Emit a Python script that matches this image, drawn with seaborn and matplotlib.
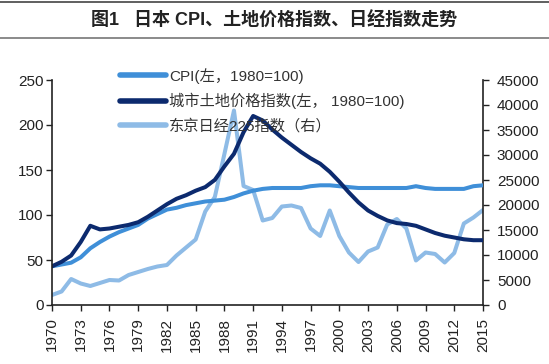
import matplotlib
matplotlib.use("Agg")
import matplotlib.pyplot as plt
import seaborn as sns
from matplotlib.lines import Line2D


years = list(range(1970, 2016))

# CPI (left axis, 1980=100)
cpi = [43, 45, 47, 53, 63, 70, 76, 81, 85, 89,
       96, 101, 106, 108, 111, 113, 115, 116, 117, 120,
       124, 127, 129, 130, 130, 130, 130, 132, 133, 133,
       132, 131, 130, 130, 130, 130, 130, 130, 132, 130,
       129, 129, 129, 129, 132, 133]

# urban land price index (left axis, 1980=100)
land = [43, 48, 55, 70, 88, 84, 85, 87, 89, 92,
        98, 105, 112, 118, 122, 127, 131, 139, 154, 168,
        192, 210, 205, 195, 186, 178, 170, 163, 157, 148,
        137, 125, 114, 105, 99, 94, 91, 90, 88, 84,
        80, 77, 75, 73, 72, 72]

# Nikkei 225 (right axis)
nikkei = [2000, 2700, 5200, 4300, 3800, 4400, 5000, 4900, 6000, 6600,
          7200, 7700, 8000, 9900, 11500, 13100, 18700, 21600, 30200, 38900,
          23800, 23000, 16900, 17400, 19700, 19900, 19400, 15300, 13800, 18900,
          13800, 10500, 8600, 10700, 11500, 16100, 17200, 15300, 8900, 10500,
          10200, 8500, 10400, 16300, 17500, 19000]

labels = ["CPI(左，1980=100)", "城市土地价格指数(左， 1980=100)", "东京日经225指数（右）"]
title = "图1   日本 CPI、土地价格指数、日经指数走势"

c_cpi = "#3f8fd8"
c_land = "#0c2a6e"
c_nk = "#8ebbe6"

sns.set_style("ticks")
plt.rcParams["font.family"] = ["Liberation Sans", "Noto Sans CJK SC"]

fig = plt.figure(figsize=(5.49, 3.64), dpi=100)
ax = fig.add_axes([52 / 549, 1 - 305 / 364, (483 - 52) / 549, (305 - 80) / 364])
ax2 = ax.twinx()

lw = 2.9
sns.lineplot(x=years, y=nikkei, ax=ax2, color=c_nk, linewidth=lw, solid_capstyle="round")
sns.lineplot(x=years, y=cpi, ax=ax, color=c_cpi, linewidth=lw, solid_capstyle="round")
sns.lineplot(x=years, y=land, ax=ax, color=c_land, linewidth=lw, solid_capstyle="round")
ax.set_zorder(ax2.get_zorder() + 1)
ax.patch.set_visible(False)

ax.set_xlim(1970, 2015)
ax.set_ylim(0, 250)
ax2.set_ylim(0, 45000)
ax.set_xticks(years[::3])
ax.set_xticklabels([str(y) for y in years[::3]], rotation=90)
ax.set_yticks(range(0, 251, 50))
ax2.set_yticks(range(0, 45001, 5000))

for a in (ax, ax2):
    a.tick_params(labelsize=11, colors="#222222", length=4, width=1)
    for s in a.spines.values():
        s.set_color("#222222")
        s.set_linewidth(1.2)
    a.spines["top"].set_visible(False)
    a.set_xlabel("")
    a.set_ylabel("")
ax.tick_params(axis="y", pad=2)
ax.tick_params(axis="x", pad=5)
ax2.tick_params(axis="y", pad=6)
ax.spines["right"].set_visible(False)
ax2.spines["left"].set_visible(False)
ax2.spines["bottom"].set_visible(False)

handles = [Line2D([], [], color=c, linewidth=4) for c in (c_cpi, c_land, c_nk)]
fig.legend(handles, labels, loc="upper left", bbox_to_anchor=(120 / 549, 1 - 68 / 364),
           frameon=False, fontsize=11, handlelength=3.0, labelspacing=0.6,
           borderpad=0, borderaxespad=0, handletextpad=0.2, labelcolor="#333333")

fig.text(0.5, 1 - 21 / 364, title, ha="center", va="center", fontsize=13,
         fontweight="bold", color="#222222")
fig.add_artist(Line2D([0, 1], [1 - 1.5 / 364] * 2, color="#444444", linewidth=1.2))
fig.add_artist(Line2D([0, 1], [1 - 37.5 / 364] * 2, color="#777777", linewidth=1.2))

fig.savefig("out.png", dpi=100)
